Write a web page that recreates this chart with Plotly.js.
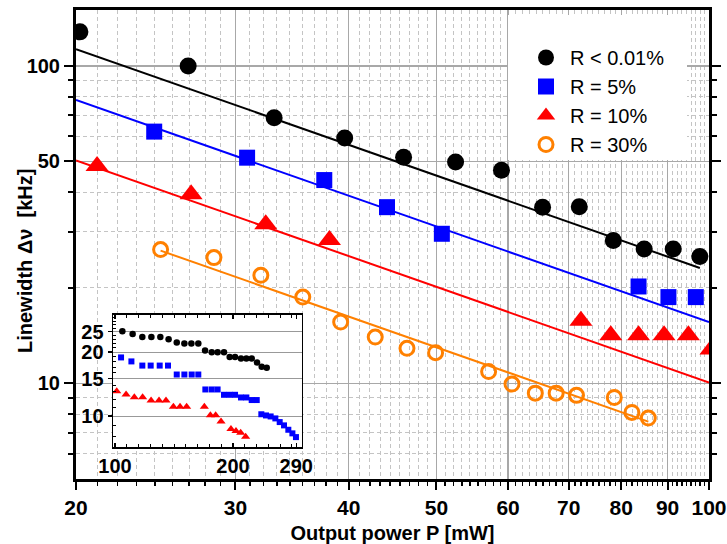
<!DOCTYPE html>
<html>
<head>
<meta charset="utf-8">
<script src="https://cdn.plot.ly/plotly-3.0.1.min.js"></script>
<style>html,body{margin:0;padding:0;background:#fff;}#chart{width:727px;height:544px;}</style>
</head>
<body>
<div id="chart"></div>
<script>
// ---- main chart data (Output power P [mW] vs Linewidth [kHz]) ----
const seriesNames = ['R < 0.01%', 'R = 5%', 'R = 10%', 'R = 30%'];

const blackX = [20.2, 26.6, 33.1, 39.6, 46.0, 52.5, 59.0, 65.5, 71.9, 78.4, 84.8, 91.3, 97.7];
const blackY = [128, 100, 68.7, 59.3, 51.6, 49.8, 46.9, 35.9, 36.0, 28.2, 26.5, 26.5, 25.1];

const blueX = [24.4, 30.9, 37.6, 44.1, 50.7, 83.6, 90.2, 96.7];
const blueY = [62.1, 51.4, 43.7, 35.9, 29.6, 20.2, 18.7, 18.7];

const redX = [21.1, 26.8, 32.4, 38.1, 72.2, 77.9, 83.6, 89.2, 94.9, 100.5];
const redY = [48.4, 39.4, 31.7, 28.3, 15.75, 14.17, 14.17, 14.17, 14.17, 12.8];

const orangeX = [24.8, 28.4, 32.0, 35.6, 39.2, 42.8, 46.4, 49.9, 57.1, 60.6, 64.3, 67.8, 71.4, 78.6, 82.2, 85.7];
const orangeY = [26.4, 24.9, 21.9, 18.7, 15.6, 14.0, 12.9, 12.5, 10.9, 9.95, 9.32, 9.32, 9.17, 9.03, 8.1, 7.78];

// fit lines (end points)
const blackFitX = [20, 97.7],  blackFitY = [112.9, 23.1];
const blueFitX = [20, 100],    blueFitY = [78.1, 15.6];
const redFitX = [20, 100],     redFitY = [50.4, 10.07];
const orangeFitX = [24.8, 85.7], orangeFitY = [26.2, 7.58];

// ---- inset data ----
const insetBlackX = [104.4, 110.9, 117.4, 123.8, 130.5, 137.0, 143.7, 150.3, 156.6, 163.1, 169.7, 176.5, 182.7, 189.7, 196.1, 202.4, 209.6, 216.3, 223.2, 230.3, 236.7, 243.8];
const insetBlackY = [25.1, 24.4, 23.6, 23.6, 23.6, 23.0, 22.2, 22.0, 22.0, 22.0, 20.4, 20.0, 20.0, 20.0, 19.0, 19.0, 18.7, 18.7, 18.7, 17.9, 17.1, 16.9];

const insetBlueX = [103.6, 110.1, 117.4, 123.3, 130.0, 136.5, 143.7, 150.3, 156.9, 163.1, 170.0, 176.5, 182.7, 189.7, 196.1, 202.4, 209.6, 216.3, 223.2, 229.9, 236.2, 242.8, 249.5, 256.5, 263.1, 269.9, 276.8, 283.5, 289.5];
const insetBlueY = [18.9, 18.1, 17.3, 17.3, 17.3, 17.3, 15.7, 15.7, 15.7, 15.7, 13.35, 13.35, 13.35, 12.6, 12.6, 12.6, 12.24, 12.24, 11.9, 11.9, 10.2, 10.07, 9.96, 9.75, 9.37, 9.04, 8.62, 8.29, 7.96];

const insetRedX = [101.0, 106.7, 112.0, 117.6, 123.6, 129.5, 134.9, 140.9, 146.5, 152.3, 169.0, 175.1, 180.6, 186.4, 197.6, 203.5, 209.2, 215.4];
const insetRedY = [13.1, 12.65, 12.28, 12.28, 11.85, 11.85, 11.85, 11.07, 11.07, 11.07, 11.07, 10.1, 10.1, 9.43, 8.68, 8.50, 8.35, 8.0];

// ---- ticks ----
const xTickVals = [20, 30, 40, 50, 60, 70, 80, 90, 100];
const xTickText = ['20', '30', '40', '50', '60', '70', '80', '90', '100'];
const yTickVals = [10, 50, 100];
const yTickText = ['10', '50', '100'];
const yMinorVals = [6, 7, 8, 9, 20, 30, 40, 60, 70, 80, 90];
const insetXTickVals = [100, 200, 290];
const insetXTickText = ['100', '200', '290'];
const insetYTickVals = [10, 15, 20, 25];
const insetYTickText = ['10', '15', '20', '25'];
const insetYMinorVals = [8, 9, 11, 12, 13, 14, 16, 17, 18, 19, 21, 22, 23, 24, 26, 27, 28, 29];

// minor x ticks: 8 per major interval
const xMinorVals = [];
for (let i = 0; i < xTickVals.length - 1; i++) {
  const a = xTickVals[i], b = xTickVals[i + 1];
  for (let k = 1; k <= 8; k++) xMinorVals.push(a + (b - a) * k / 9);
}
const insetXMinorVals = [];
for (let k = 1; k <= 15; k++) insetXMinorVals.push(Math.pow(10, 2 + k * 0.0301));

const FONT = 'Liberation Sans, Arial, Helvetica, sans-serif';
const BLACK = '#000000', BLUE = '#0000ff', RED = '#ff0000', ORANGE = '#ff8000';

// pixel helpers for paper placement (plot area 76..709 x 10..479)
const W = 727, H = 544, L = 76, R = 18, T = 10, B = 65;
const pw = W - L - R, ph = H - T - B;
const px = v => (v - L) / pw;
const py = v => (H - B - v) / ph;

function fit(x, y, c) {
  return {x: x, y: y, type: 'scatter', mode: 'lines', line: {color: c, width: 2}, showlegend: false, hoverinfo: 'skip', xaxis: 'x', yaxis: 'y'};
}

const traces = [
  fit(blackFitX, blackFitY, BLACK),
  fit(blueFitX, blueFitY, BLUE),
  fit(redFitX, redFitY, RED),
  fit(orangeFitX, orangeFitY, ORANGE),
  {x: blackX, y: blackY, name: seriesNames[0], type: 'scatter', mode: 'markers',
   marker: {symbol: 'circle', size: 17, color: BLACK}},
  {x: blueX, y: blueY, name: seriesNames[1], type: 'scatter', mode: 'markers',
   marker: {symbol: 'square', size: 16, color: BLUE}},
  {x: redX, y: redY, name: seriesNames[2], type: 'scatter', mode: 'markers',
   marker: {symbol: 'triangle-up', size: 20, color: RED}},
  {x: orangeX, y: orangeY, name: seriesNames[3], type: 'scatter', mode: 'markers',
   marker: {symbol: 'circle-open', size: 14, color: ORANGE, line: {width: 3, color: ORANGE}}},
  {x: insetBlackX, y: insetBlackY, type: 'scatter', mode: 'markers', xaxis: 'x2', yaxis: 'y2', showlegend: false,
   marker: {symbol: 'circle', size: 6.5, color: BLACK}},
  {x: insetBlueX, y: insetBlueY, type: 'scatter', mode: 'markers', xaxis: 'x2', yaxis: 'y2', showlegend: false,
   marker: {symbol: 'square', size: 6, color: BLUE}},
  {x: insetRedX, y: insetRedY, type: 'scatter', mode: 'markers', xaxis: 'x2', yaxis: 'y2', showlegend: false,
   marker: {symbol: 'triangle-up', size: 8, color: RED}}
];

const xTickFont = {family: FONT, size: 21, color: '#000', weight: 'bold'};
const yTickFont = {family: FONT, size: 20, color: '#000', weight: 'bold'};
const titleFont = {family: FONT, size: 20, color: '#000', weight: 'bold'};
const MINOR_DASH = '4px,3px';

const layout = {
  width: W, height: H,
  margin: {l: L, r: R, t: T, b: B, pad: 0},
  paper_bgcolor: '#ffffff', plot_bgcolor: '#ffffff',
  font: {family: FONT, color: '#000'},
  showlegend: true,
  legend: {x: px(522), y: py(38), xanchor: 'left', yanchor: 'top', bgcolor: 'rgba(255,255,255,0)', borderwidth: 0,
           itemwidth: 38, font: {family: FONT, size: 20, color: '#000'}, tracegroupgap: 0},
  shapes: [
    {type: 'rect', xref: 'paper', yref: 'paper', x0: px(508), x1: px(687), y0: py(160), y1: py(15),
     fillcolor: '#ffffff', line: {width: 0}, layer: 'above'}
  ],
  annotations: [
    {text: 'Linewidth \u0394\u03bd  [kHz]', xref: 'paper', yref: 'paper', x: px(25), y: py(261),
     xanchor: 'center', yanchor: 'middle', textangle: -90, showarrow: false, font: titleFont}
  ],
  xaxis: {
    type: 'log', range: [Math.log10(20), Math.log10(100)], domain: [0, 1],
    tickmode: 'array', tickvals: xTickVals, ticktext: xTickText,
    ticks: 'outside', ticklen: 8, tickwidth: 2, tickcolor: '#000',
    showline: true, linecolor: '#000', linewidth: 3, mirror: true,
    showgrid: true, gridcolor: '#a8a8a8', gridwidth: 1.3,
    minor: {tickmode: 'array', tickvals: xMinorVals, ticks: 'outside', ticklen: 4, tickwidth: 1.5, tickcolor: '#000',
            showgrid: true, gridcolor: '#c4c4c4', griddash: MINOR_DASH, gridwidth: 1},
    tickfont: xTickFont,
    title: {text: 'Output power P [mW]', font: titleFont, standoff: 8},
    zeroline: false, automargin: false
  },
  yaxis: {
    type: 'log', range: [Math.log10(5), Math.log10(150)], domain: [0, 1],
    tickmode: 'array', tickvals: yTickVals, ticktext: yTickText,
    ticks: 'outside', ticklen: 9, tickwidth: 2, tickcolor: '#000',
    showline: true, linecolor: '#000', linewidth: 3, mirror: 'ticks',
    showgrid: true, gridcolor: '#a8a8a8', gridwidth: 1.3,
    minor: {tickmode: 'array', tickvals: yMinorVals, ticks: 'outside', ticklen: 5, tickwidth: 2, tickcolor: '#000',
            showgrid: true, gridcolor: '#c4c4c4', griddash: MINOR_DASH, gridwidth: 1},
    tickfont: yTickFont,
    zeroline: false, automargin: false
  },
  xaxis2: {
    type: 'log', range: [1.9949, 2.477], domain: [0.0585, 0.357], anchor: 'y2',
    tickmode: 'array', tickvals: insetXTickVals, ticktext: insetXTickText,
    ticks: 'inside', ticklen: 4, tickwidth: 1.5, tickcolor: '#000',
    showline: true, linecolor: '#000', linewidth: 1.5, mirror: 'ticks',
    showgrid: false,
    minor: {tickmode: 'array', tickvals: insetXMinorVals, ticks: 'inside', ticklen: 3, tickwidth: 1, tickcolor: '#000', showgrid: false},
    tickfont: {family: FONT, size: 20, color: '#000', weight: 'bold'},
    zeroline: false, automargin: false
  },
  yaxis2: {
    type: 'log', range: [0.8542, 1.4765], domain: [0.0682, 0.3497], anchor: 'x2',
    tickmode: 'array', tickvals: insetYTickVals, ticktext: insetYTickText,
    ticks: 'outside', ticklen: 4, tickwidth: 1.5, tickcolor: '#000',
    showline: true, linecolor: '#000', linewidth: 1.5, mirror: true,
    showgrid: true, gridcolor: '#999999', gridwidth: 1,
    minor: {tickmode: 'array', tickvals: insetYMinorVals, ticks: 'inside', ticklen: 3, tickwidth: 1, tickcolor: '#000', showgrid: false},
    tickfont: {family: FONT, size: 20, color: '#000', weight: 'bold'},
    zeroline: false, automargin: false
  }
};

Plotly.newPlot('chart', traces, layout, {staticPlot: true, displayModeBar: false});
</script>
</body>
</html>
